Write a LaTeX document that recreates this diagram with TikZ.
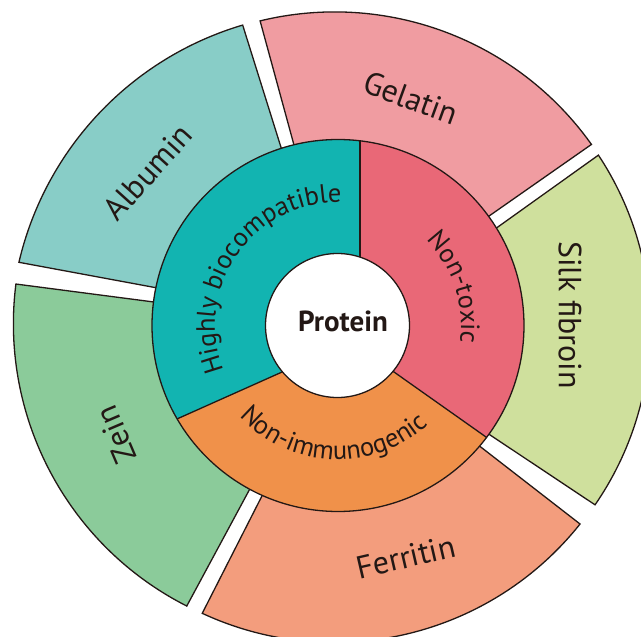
\documentclass[tikz,border=0pt]{standalone}
\usepackage{fontspec}
\setmainfont{PT Sans}
\usetikzlibrary{decorations.text}
\definecolor{albc}{HTML}{88CDC7}
\definecolor{gelc}{HTML}{F09CA1}
\definecolor{silkc}{HTML}{CFE09D}
\definecolor{ferc}{HTML}{F39D7D}
\definecolor{zeinc}{HTML}{8BCB9A}
\definecolor{tealc}{HTML}{12B4B1}
\definecolor{pinkc}{HTML}{E96877}
\definecolor{orangec}{HTML}{F0914A}
\definecolor{linec}{HTML}{231815}
\definecolor{txt}{HTML}{231815}
\newcommand\myringfont{\fontsize{26.5}{26.5}\selectfont\color{txt}}
\begin{document}
\begin{tikzpicture}[x=1pt,y=1pt,
  seg/.style={draw=linec, line width=1.3pt, line join=miter},
  outlab/.style={font=\fontsize{32}{32}\selectfont, text=txt, inner sep=0pt},
  ringtext/.style={decorate, decoration={text along path, text align=center, text={|\myringfont|#1}}}]
\useasboundingbox (0,0) rectangle (641,-637);
\clip (0,0) rectangle (641,-637);
\coordinate (C) at (338,-325.5);
% outer segments
\filldraw[fill=albc, seg] (260,-307) -- ([shift={(334.8,-336.1)}]166.85:324.4) arc[start angle=166.85, end angle=106.5, radius=324.4] -- (311,-243) -- cycle;
\filldraw[fill=gelc, seg] (320.3,-241.5) -- ([shift={(334.7,-326.9)}]103.7:315) arc[start angle=103.7, end angle=35.4, radius=315] -- (409,-272) -- cycle;
\filldraw[fill=silkc, seg] (415.4,-285.9) -- ([shift={(338,-327.5)}]33.5:312.3) arc[start angle=33.5, end angle=-34.6, radius=312.3] -- (406,-379) -- cycle;
\filldraw[fill=ferc, seg] (403,-386.7) -- ([shift={(334.4,-328.6)}]-38.5:313.9) arc[start angle=-38.5, end angle=-114.9, radius=313.9] -- (306,-409.4) -- cycle;
\filldraw[fill=zeinc, seg] (297.6,-400.3) -- ([shift={(330,-323.7)}]243.1:316.6) arc[start angle=243.1, end angle=172.8, radius=316.6] -- (260.5,-315.9) -- cycle;
% middle ring
\begin{scope}
\clip (C) circle[radius=186];
\fill[tealc] (340,-340) -- (360,-300) -- (360,10) -- (-10,10) -- (-10,-502.5) -- (300,-364) -- cycle;
\fill[pinkc] (340,-340) -- (360,-300) -- (360,10) -- (651,10) -- (651,-553.6) -- (380,-362.1) -- cycle;
\fill[orangec] (340,-340) -- (300,-364) -- (-10,-502.5) -- (-10,-647) -- (651,-647) -- (651,-553.6) -- (380,-362.1) -- cycle;
\draw[seg] (360,10) -- (360,-300);
\draw[seg] (-10,-502.5) -- (300,-364);
\draw[seg] (651,-553.6) -- (380,-362.1);
\end{scope}
\draw[seg] (C) circle[radius=186];
\filldraw[fill=white, seg] (337.5,-325.5) circle[radius=72];
\node[font=\fontsize{29}{29}\selectfont\bfseries, text=txt, inner sep=0pt] (prot) at (343,-321) {Protein};
% ring labels
\path[ringtext={Highly biocompatible}] ([shift={(338,-325.5)}]215:123) arc[start angle=215, end angle=75, radius=123];
\path[ringtext={Non-toxic}] ([shift={(338,-325.5)}]70:123) arc[start angle=70, end angle=-34, radius=123];
\path[ringtext={Non-immunogenic}] ([shift={(338,-325.5)}]210:134) arc[start angle=210, end angle=325, radius=134];
% outer labels
\node[outlab, rotate=48] (alb) at (148,-172) {Albumin};
\node[outlab, rotate=-20] (gel) at (411,-98) {Gelatin};
\node[outlab, rotate=-90] (silk) at (570,-315) {Silk fibroin};
\node[outlab, rotate=13] (fer) at (406,-557) {Ferritin};
\node[outlab, rotate=113] (zein) at (116,-435) {Zein};
\end{tikzpicture}
\end{document}
